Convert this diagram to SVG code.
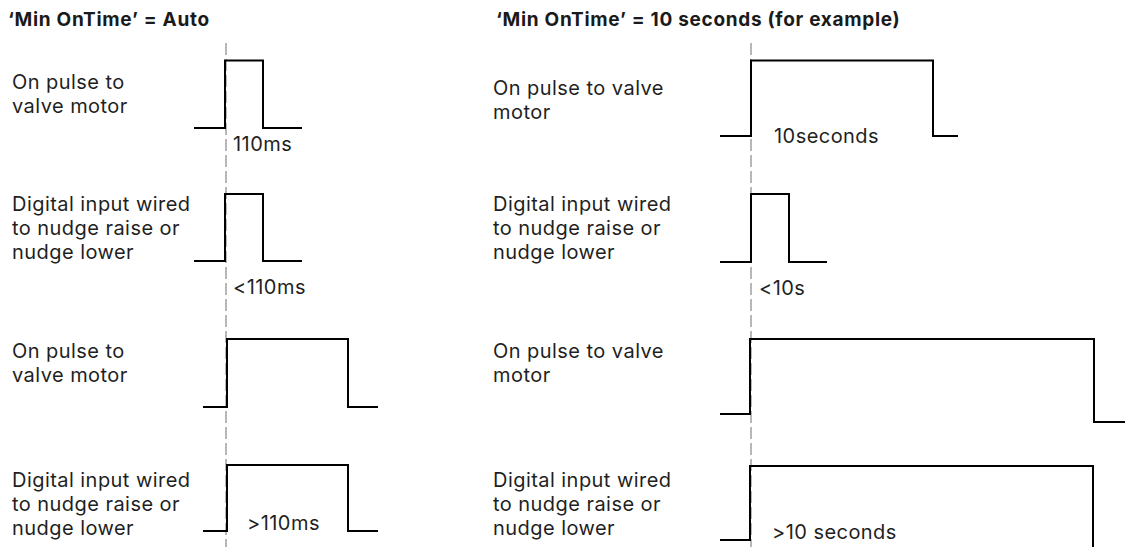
<svg xmlns="http://www.w3.org/2000/svg" width="1125" height="547" viewBox="0 0 1125 547">
<style>
.t{font-family:Inter,"Liberation Sans",sans-serif;font-size:20px;letter-spacing:0.45px;fill:#1f1f1f}
.h{font-family:Inter,"Liberation Sans",sans-serif;font-size:19px;letter-spacing:0.7px;font-weight:bold;fill:#1a1a1a}
.w{fill:none;stroke:#000;stroke-width:2}
.d{fill:none;stroke:#a6a6a6;stroke-width:1.6;stroke-dasharray:12 4}
</style>
<rect width="1125" height="547" fill="#fff"/>
<text class="h" x="8" y="26">‘Min OnTime’ = Auto</text>
<text class="h" x="496" y="26">‘Min OnTime’ = 10 seconds (for example)</text>
<g id="connectors">
<line class="d" x1="226" y1="43" x2="226" y2="547"/>
<line class="d" x1="751" y1="43" x2="751" y2="547"/>
</g>
<g id="L1">
<text class="t" x="12" y="89">On pulse to</text>
<text class="t" x="12" y="113">valve motor</text>
<path class="w" d="M194 128H225V60.5H263V128H302"/>
<text class="t" x="233" y="151">110ms</text>
</g>
<g id="L2">
<text class="t" x="12" y="211">Digital input wired</text>
<text class="t" x="12" y="235">to nudge raise or</text>
<text class="t" x="12" y="259">nudge lower</text>
<path class="w" d="M194 261H225V194H263V261H302"/>
<text class="t" x="233" y="294">&lt;110ms</text>
</g>
<g id="L3">
<text class="t" x="12" y="358">On pulse to</text>
<text class="t" x="12" y="382">valve motor</text>
<path class="w" d="M203 407H227V339H348V407H378"/>
</g>
<g id="L4">
<text class="t" x="12" y="487">Digital input wired</text>
<text class="t" x="12" y="511">to nudge raise or</text>
<text class="t" x="12" y="535">nudge lower</text>
<path class="w" d="M203 531H227V465H348V531H378"/>
<text class="t" x="247" y="530">&gt;110ms</text>
</g>
<g id="R1">
<text class="t" x="493" y="95">On pulse to valve</text>
<text class="t" x="493" y="119">motor</text>
<path class="w" d="M720 136H751V60.5H933V136H958"/>
<text class="t" x="774" y="143">10seconds</text>
</g>
<g id="R2">
<text class="t" x="493" y="211">Digital input wired</text>
<text class="t" x="493" y="235">to nudge raise or</text>
<text class="t" x="493" y="259">nudge lower</text>
<path class="w" d="M720 262H751V194H789V262H827"/>
<text class="t" x="759" y="295">&lt;10s</text>
</g>
<g id="R3">
<text class="t" x="493" y="358">On pulse to valve</text>
<text class="t" x="493" y="382">motor</text>
<path class="w" d="M720 414H750V339H1094V422H1125"/>
</g>
<g id="R4">
<text class="t" x="493" y="487">Digital input wired</text>
<text class="t" x="493" y="511">to nudge raise or</text>
<text class="t" x="493" y="535">nudge lower</text>
<path class="w" d="M720 540H750V466H1093V547"/>
<text class="t" x="772" y="539">&gt;10 seconds</text>
</g>
</svg>
